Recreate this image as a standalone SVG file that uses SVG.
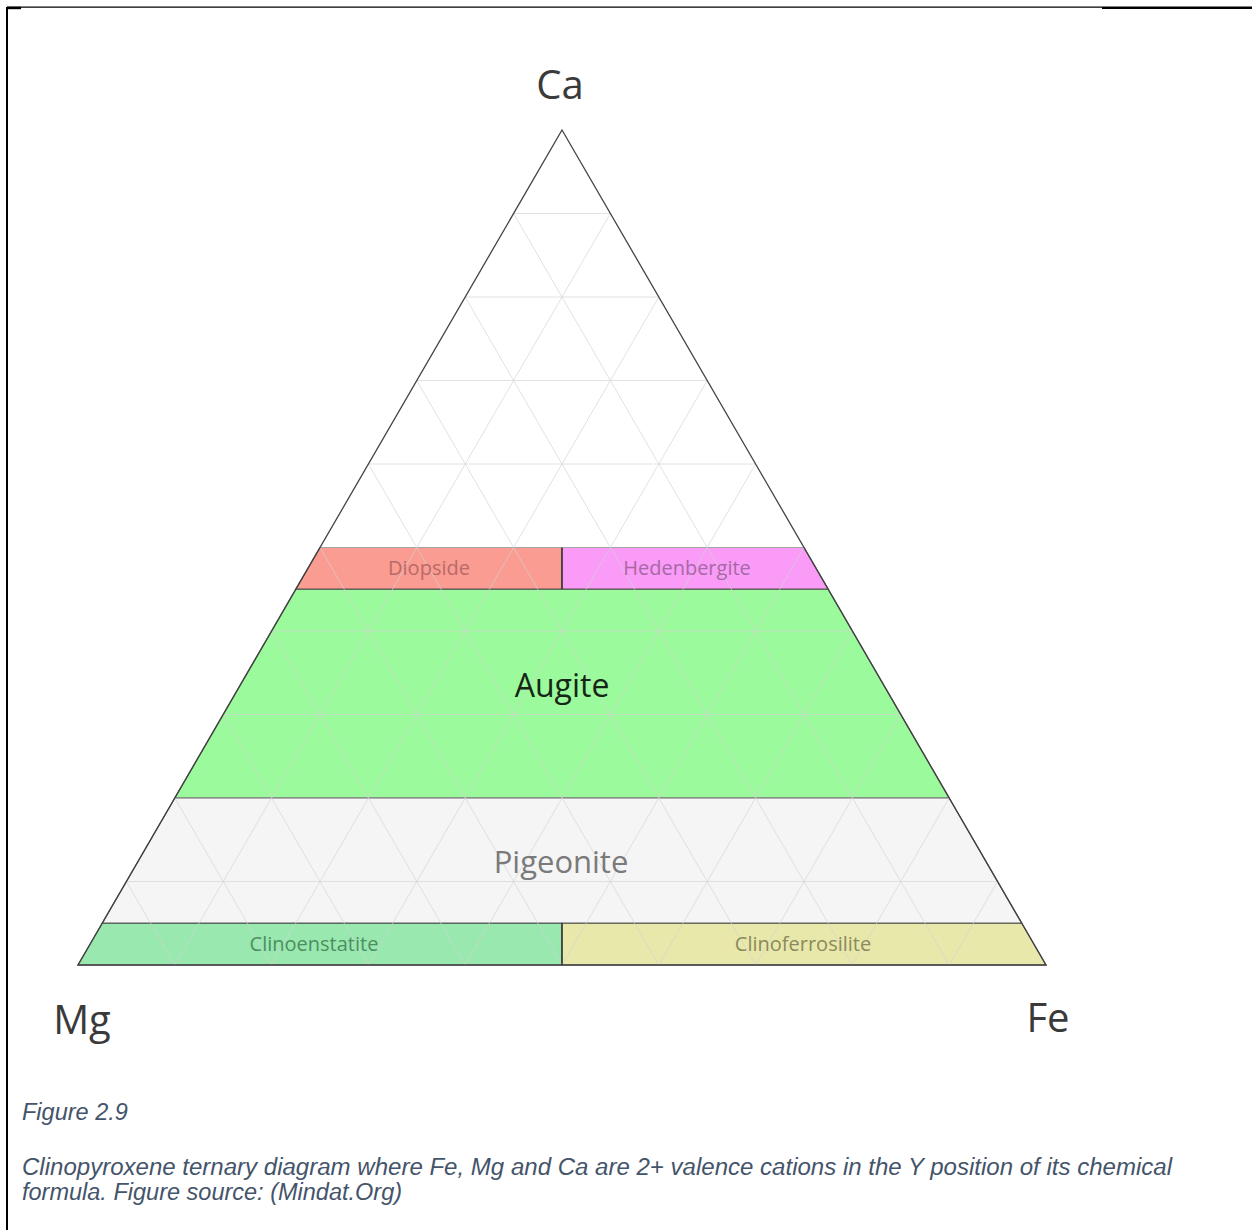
<svg xmlns="http://www.w3.org/2000/svg" width="1252" height="1230" viewBox="0 0 1252 1230">
<style>
.grid line{stroke:#d4d4d4;stroke-width:1;opacity:0.65}
.band{stroke:#4a4a4a;stroke-width:1.2}
.lbl{font-family:"Open Sans","Noto Sans",sans-serif;text-anchor:middle}
.ax{font-family:"Open Sans","Noto Sans",sans-serif;font-size:40px;fill:#3a3a3a;text-anchor:middle}
.cap{font-family:"Liberation Sans",Arial,sans-serif;font-style:italic;font-size:23.5px;fill:#44546a}
</style>
<rect x="0" y="0" width="1252" height="1230" fill="#ffffff"/>
<g id="frame">
<line x1="7" y1="7" x2="7" y2="1230" stroke="#000" stroke-width="2"/>
<line x1="7" y1="7.2" x2="1102" y2="7.2" stroke="#000" stroke-width="1.3"/>
<line x1="1102" y1="7.8" x2="1252" y2="7.8" stroke="#000" stroke-width="2.4"/>
<line x1="7" y1="8" x2="21" y2="8" stroke="#000" stroke-width="2.4"/>
</g>
<g id="triangle-bg">
<polygon points="562,130 1046,965 78,965" fill="#ffffff"/>
</g>
<g id="diopside"><polygon class="band" points="320,547.5 562,547.5 562,589.25 295.8,589.25" fill="#fa9c92"/></g>
<g id="hedenbergite"><polygon class="band" points="562,547.5 804,547.5 828.2,589.25 562,589.25" fill="#f99bf7"/></g>
<g id="augite"><polygon class="band" points="295.8,589.25 828.2,589.25 949.2,798 174.8,798" fill="#9bfa9b"/></g>
<g id="pigeonite"><polygon class="band" points="174.8,798 949.2,798 1021.8,923.25 102.2,923.25" fill="#f5f5f5"/></g>
<g id="clinoenstatite"><polygon class="band" points="102.2,923.25 562,923.25 562,965 78,965" fill="#98e8b0"/></g>
<g id="clinoferrosilite"><polygon class="band" points="562,923.25 1021.8,923.25 1046,965 562,965" fill="#e8e8aa"/></g>
<g class="grid" id="grid">
<line x1="126.4" y1="881.5" x2="997.6" y2="881.5"/>
<line x1="174.8" y1="798" x2="949.2" y2="798"/>
<line x1="223.2" y1="714.5" x2="900.8" y2="714.5"/>
<line x1="271.6" y1="631" x2="852.4" y2="631"/>
<line x1="320" y1="547.5" x2="804" y2="547.5"/>
<line x1="368.4" y1="464" x2="755.6" y2="464"/>
<line x1="416.8" y1="380.5" x2="707.2" y2="380.5"/>
<line x1="465.2" y1="297" x2="658.8" y2="297"/>
<line x1="513.6" y1="213.5" x2="610.4" y2="213.5"/>
<line x1="174.8" y1="965" x2="610.4" y2="213.5"/>
<line x1="271.6" y1="965" x2="658.8" y2="297"/>
<line x1="368.4" y1="965" x2="707.2" y2="380.5"/>
<line x1="465.2" y1="965" x2="755.6" y2="464"/>
<line x1="562" y1="965" x2="804" y2="547.5"/>
<line x1="658.8" y1="965" x2="852.4" y2="631"/>
<line x1="755.6" y1="965" x2="900.8" y2="714.5"/>
<line x1="852.4" y1="965" x2="949.2" y2="798"/>
<line x1="949.2" y1="965" x2="997.6" y2="881.5"/>
<line x1="949.2" y1="965" x2="513.6" y2="213.5"/>
<line x1="852.4" y1="965" x2="465.2" y2="297"/>
<line x1="755.6" y1="965" x2="416.8" y2="380.5"/>
<line x1="658.8" y1="965" x2="368.4" y2="464"/>
<line x1="562" y1="965" x2="320" y2="547.5"/>
<line x1="465.2" y1="965" x2="271.6" y2="631"/>
<line x1="368.4" y1="965" x2="223.2" y2="714.5"/>
<line x1="271.6" y1="965" x2="174.8" y2="798"/>
<line x1="174.8" y1="965" x2="126.4" y2="881.5"/>
</g>
<g id="outline">
<polygon points="562,130 1046,965 78,965" fill="none" stroke="#444" stroke-width="1.3"/>
<line x1="562" y1="547.5" x2="562" y2="589.25" stroke="#333" stroke-width="1.2"/>
<line x1="562" y1="923.25" x2="562" y2="965" stroke="#333" stroke-width="1.2"/>
</g>
<g id="labels">
<text class="ax" x="560" y="99">Ca</text>
<text class="ax" x="82" y="1034">Mg</text>
<text class="ax" x="1048" y="1032">Fe</text>
<text class="lbl" x="429" y="575" font-size="20" fill="#b86a68">Diopside</text>
<text class="lbl" x="687" y="575" font-size="20" fill="#a868a6">Hedenbergite</text>
<text class="lbl" x="562" y="697" font-size="32" fill="#162616">Augite</text>
<text class="lbl" x="561" y="873" font-size="31" fill="#7a7a7a">Pigeonite</text>
<text class="lbl" x="314" y="951" font-size="20" fill="#4e8e60">Clinoenstatite</text>
<text class="lbl" x="803" y="951" font-size="20" fill="#8a8a5e">Clinoferrosilite</text>
</g>
<g id="caption">
<text class="cap" x="22" y="1120">Figure 2.9</text>
<text class="cap" x="22" y="1175" textLength="1150" lengthAdjust="spacingAndGlyphs">Clinopyroxene ternary diagram where Fe, Mg and Ca are 2+ valence cations in the Y position of its chemical</text>
<text class="cap" x="22" y="1200">formula. Figure source: (Mindat.Org)</text>
</g>
</svg>
